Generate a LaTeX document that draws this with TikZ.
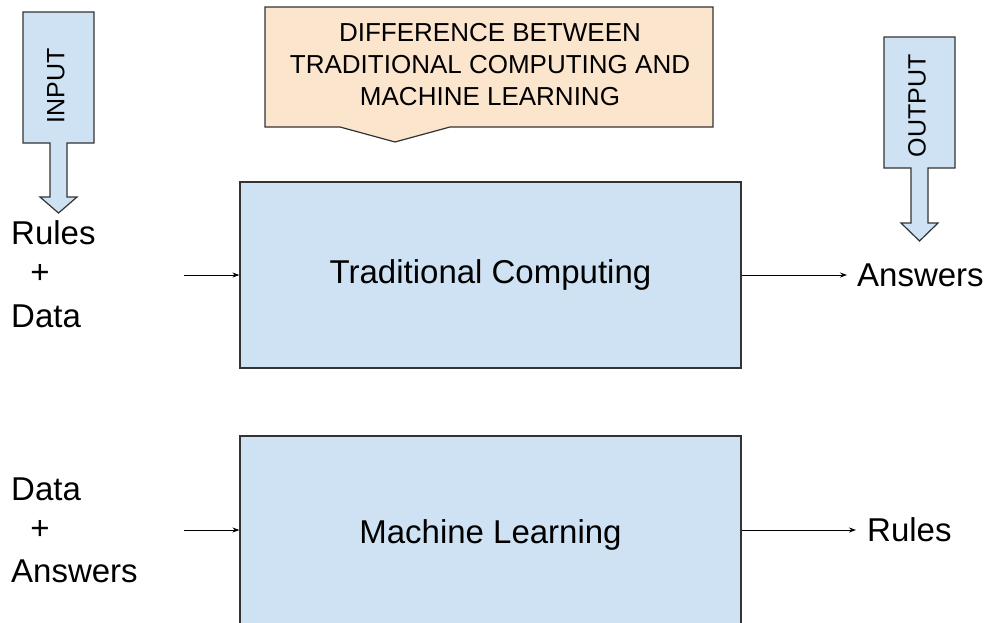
\documentclass[tikz,border=0pt]{standalone}
\usepackage{fontspec}
\setmainfont{Liberation Sans}
\usetikzlibrary{arrows.meta}
\definecolor{boxblue}{HTML}{CFE2F3}
\definecolor{peach}{HTML}{FCE5CD}
\definecolor{edge}{HTML}{333333}
\begin{document}
\begin{tikzpicture}[x=1pt,y=-1pt,
  proc/.style={draw=edge,line width=1.2pt,fill=boxblue,minimum width=501pt,inner sep=0pt,font=\fontsize{33}{40}\selectfont},
  lbl/.style={inner sep=0pt,font=\fontsize{33}{40}\selectfont},
  callout/.style={draw=edge,line width=1.2pt},
  conn/.style={-{Stealth[length=7pt,width=5pt]},line width=0.9pt,black}]
\useasboundingbox (0,0) rectangle (992,622);
% title callout
\draw[callout,fill=peach] (265,7) -- (713,7) -- (713,127) -- (450,127) -- (395,142) -- (340,127) -- (265,127) -- cycle;
\node[align=center,inner sep=0pt,font=\fontsize{26}{32}\selectfont] (title) at (490,65) {DIFFERENCE BETWEEN\\TRADITIONAL COMPUTING AND\\MACHINE LEARNING};
% input block arrow
\draw[callout,fill=boxblue] (23,12) -- (94,12) -- (94,143) -- (67,143) -- (67,197) -- (77,197) -- (58.5,213) -- (40,197) -- (50,197) -- (50,143) -- (23,143) -- cycle;
\node[rotate=90,inner sep=0pt,font=\fontsize{25}{30}\selectfont] (input) at (56,86) {INPUT};
% output block arrow
\draw[callout,fill=boxblue] (884,37) -- (955,37) -- (955,168) -- (928,168) -- (928,223) -- (938,223) -- (919.5,241) -- (901,223) -- (911,223) -- (911,168) -- (884,168) -- cycle;
\node[rotate=90,inner sep=0pt,font=\fontsize{25}{30}\selectfont] (output) at (917,106) {OUTPUT};
% process boxes
\node[proc,minimum height=186pt] (tc) at (490.5,275) {Traditional Computing};
\node[proc,minimum height=198pt] (ml) at (490.5,535) {Machine Learning};
% labels left
\node[lbl,anchor=west] (r1) at (11,233) {Rules};
\node[lbl] (p1) at (40,274) {+};
\node[lbl,anchor=west] (d1) at (11,316) {Data};
\node[lbl,anchor=west] (d2) at (11,489) {Data};
\node[lbl] (p2) at (40,530) {+};
\node[lbl,anchor=west] (a2) at (11,571) {Answers};
% labels right
\node[lbl,anchor=west] (ans) at (857,275) {Answers};
\node[lbl,anchor=west] (rul) at (867,530) {Rules};
% connectors
\coordinate (s1) at (184,275);
\coordinate (s2) at (184,530);
\draw[conn] (s1) -- (tc.west |- s1);
\draw[conn] (s2) -- (ml.west |- s2);
\draw[conn,shorten >=10pt] (tc.east |- s1) -- (ans.west);
\draw[conn,shorten >=11pt] (ml.east |- s2) -- (rul.west);
\end{tikzpicture}
\end{document}
